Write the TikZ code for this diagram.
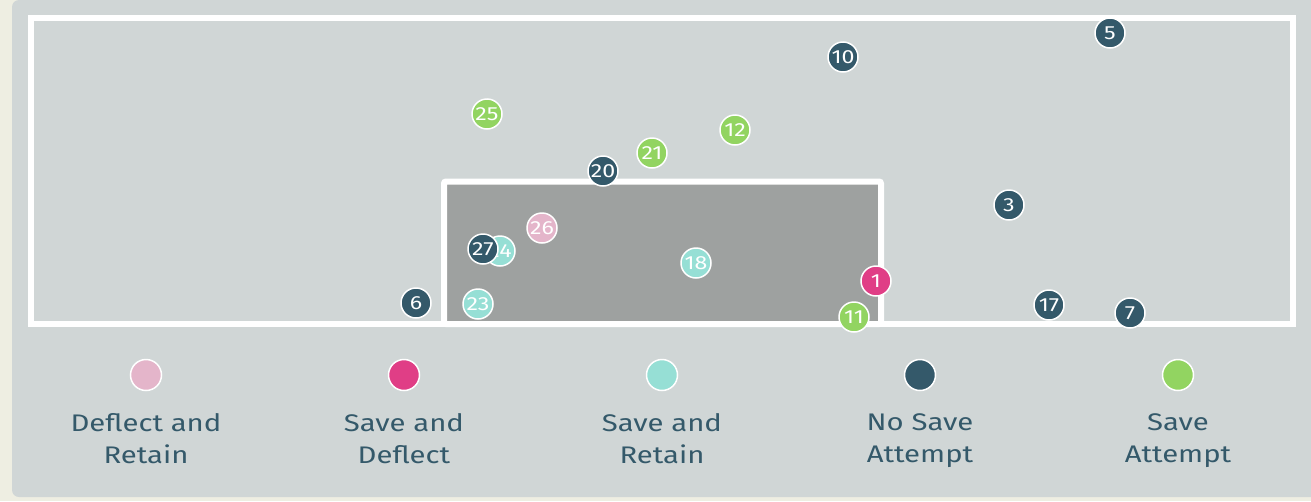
\documentclass[tikz,border=0pt]{standalone}
\usepackage{fontspec}
\setmainfont{Fira Sans}
\newfontfamily\widefont[FakeStretch=1.22]{Fira Sans}
\usetikzlibrary{positioning}

\definecolor{cream}{HTML}{EEEEE2}
\definecolor{panel}{HTML}{D0D6D6}
\definecolor{goalgrey}{HTML}{9EA1A0}
\definecolor{pinkdot}{HTML}{E4B5CA}
\definecolor{magentadot}{HTML}{E03E86}
\definecolor{tealdot}{HTML}{96DFD5}
\definecolor{slatedot}{HTML}{34596A}
\definecolor{greendot}{HTML}{92D461}

\begin{document}
\begin{tikzpicture}[x=1pt, y=-1pt,
  shot/.style={circle, draw=white, line width=1.5pt, minimum size=30pt, inner sep=0pt, text=white, font=\widefont\fontsize{19}{19}\selectfont},
  key/.style={circle, draw=white, line width=1.5pt, minimum size=31pt, inner sep=0pt},
  keytext/.style={align=center, text=slatedot, inner sep=0pt, font=\widefont\fontsize{24}{32}\selectfont},
  node distance=22pt]

\useasboundingbox (0,0) rectangle (1311,501);
\fill[cream] (0,0) rectangle (1311,501);
\fill[panel, rounded corners=7pt] (12,0) rectangle (1330,497);

% goal frame and goal mouth
\draw[white, line width=6pt] (31,18) rectangle (1293,324);
\draw[white, fill=goalgrey, line width=6pt, rounded corners=2pt] (444,181.5) rectangle (881,324);

% shots
\node[shot, fill=slatedot] (s10) at (843,57) {10};
\node[shot, fill=slatedot] (s5) at (1110,33) {5};
\node[shot, fill=greendot] (s25) at (487,114) {25};
\node[shot, fill=greendot] (s12) at (735,130) {12};
\node[shot, fill=greendot] (s21) at (652,153) {21};
\node[shot, fill=slatedot] (s20) at (603,171) {20};
\node[shot, fill=slatedot] (s3) at (1009,205) {3};
\node[shot, fill=pinkdot] (s26) at (542,228) {26};
\node[shot, fill=tealdot] (s24) at (500,251) {24};
\node[shot, fill=slatedot] (s27) at (483,249) {27};
\node[shot, fill=tealdot] (s18) at (696,263) {18};
\node[shot, fill=magentadot] (s1) at (876,281) {1};
\node[shot, fill=slatedot] (s6) at (416,303) {6};
\node[shot, fill=tealdot] (s23) at (478,304) {23};
\node[shot, fill=slatedot] (s17) at (1049,305) {17};
\node[shot, fill=slatedot] (s7) at (1130,313) {7};
\node[shot, fill=greendot] (s11) at (854,317) {11};

% legend
\node[key, fill=pinkdot] (kdeflret) at (146,375) {};
\node[key, fill=magentadot] (ksavedefl) at (404,375) {};
\node[key, fill=tealdot] (ksaveret) at (662,375) {};
\node[key, fill=slatedot] (knosave) at (920,375) {};
\node[key, fill=greendot] (ksave) at (1178,375) {};

\node[keytext, below=of kdeflret] (tdeflret) {Deflect and\\Retain};
\node[keytext, below=of ksavedefl] (tsavedefl) {Save and\\Deflect};
\node[keytext, below=of ksaveret] (tsaveret) {Save and\\Retain};
\node[keytext, below=of knosave] (tnosave) {No Save\\Attempt};
\node[keytext, below=of ksave] (tsave) {Save\\Attempt};

\end{tikzpicture}
\end{document}
